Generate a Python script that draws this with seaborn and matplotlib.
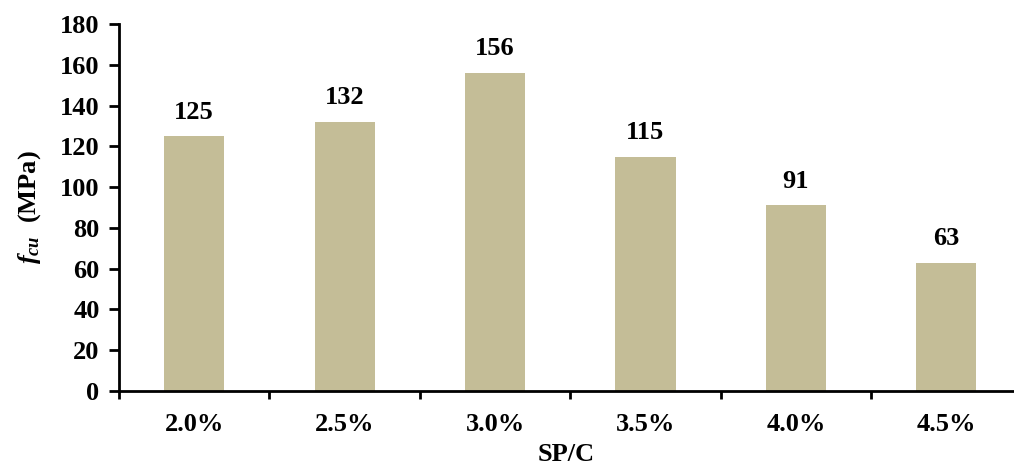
import matplotlib
matplotlib.use("Agg")
import matplotlib.pyplot as plt
import seaborn as sns
import pandas as pd

categories = ["2.0%", "2.5%", "3.0%", "3.5%", "4.0%", "4.5%"]
fcu_values = [125, 132, 156, 115, 91, 63]
y_ticks = [0, 20, 40, 60, 80, 100, 120, 140, 160, 180]

sns.set_theme(style="ticks")
plt.rcParams["font.family"] = ["Liberation Serif", "DejaVu Serif"]
plt.rcParams["font.weight"] = "bold"
plt.rcParams["text.color"] = "black"
plt.rcParams["axes.labelcolor"] = "black"
plt.rcParams["xtick.color"] = "black"
plt.rcParams["ytick.color"] = "black"
plt.rcParams["mathtext.fontset"] = "custom"
plt.rcParams["mathtext.it"] = "Liberation Serif:italic:bold"
plt.rcParams["mathtext.rm"] = "Liberation Serif:bold"
plt.rcParams["mathtext.bf"] = "Liberation Serif:bold"

FS = 19

df = pd.DataFrame({"SP/C": categories, "fcu": fcu_values})

fig = plt.figure(figsize=(10.14, 4.70), dpi=100)
ax = fig.add_axes([119/1014, 1 - 391/470, 1 - 119/1014, (391 - 24)/470])

sns.barplot(data=df, x="SP/C", y="fcu", color="#C4BD97", saturation=1,
            width=0.4, ax=ax, edgecolor="none")

ax.set_ylim(0, 180)
ax.set_xlim(-0.5, 5.45)
ax.set_yticks(y_ticks)
ax.set_yticklabels([str(t) for t in y_ticks], fontsize=FS, fontweight="bold")

# category ticks at the boundaries, labels centered
ax.set_xticks([i - 0.5 for i in range(len(categories))])
ax.set_xticklabels([])
ax.set_xticks(range(len(categories)), minor=True)
ax.set_xticklabels(categories, minor=True, fontsize=FS, fontweight="bold")
ax.tick_params(axis="x", which="minor", length=0, pad=16)
ax.tick_params(axis="x", which="major", length=6, width=2, direction="out")
ax.tick_params(axis="y", length=7, width=2, direction="out", pad=7)

for side in ["top", "right"]:
    ax.spines[side].set_visible(False)
for side in ["left", "bottom"]:
    ax.spines[side].set_linewidth(2)
    ax.spines[side].set_color("black")

for i, v in enumerate(fcu_values):
    ax.annotate(str(v), (i, v), xytext=(0, 9), textcoords="offset points",
                ha="center", va="bottom", fontsize=FS, fontweight="bold")

ax.set_xlabel("SP/C", fontsize=FS, fontweight="bold", labelpad=5)
ax.set_ylabel(r"$f_{cu}$  (MPa)", fontsize=FS, fontweight="bold", labelpad=12)

fig.savefig("out.png", dpi=100)
